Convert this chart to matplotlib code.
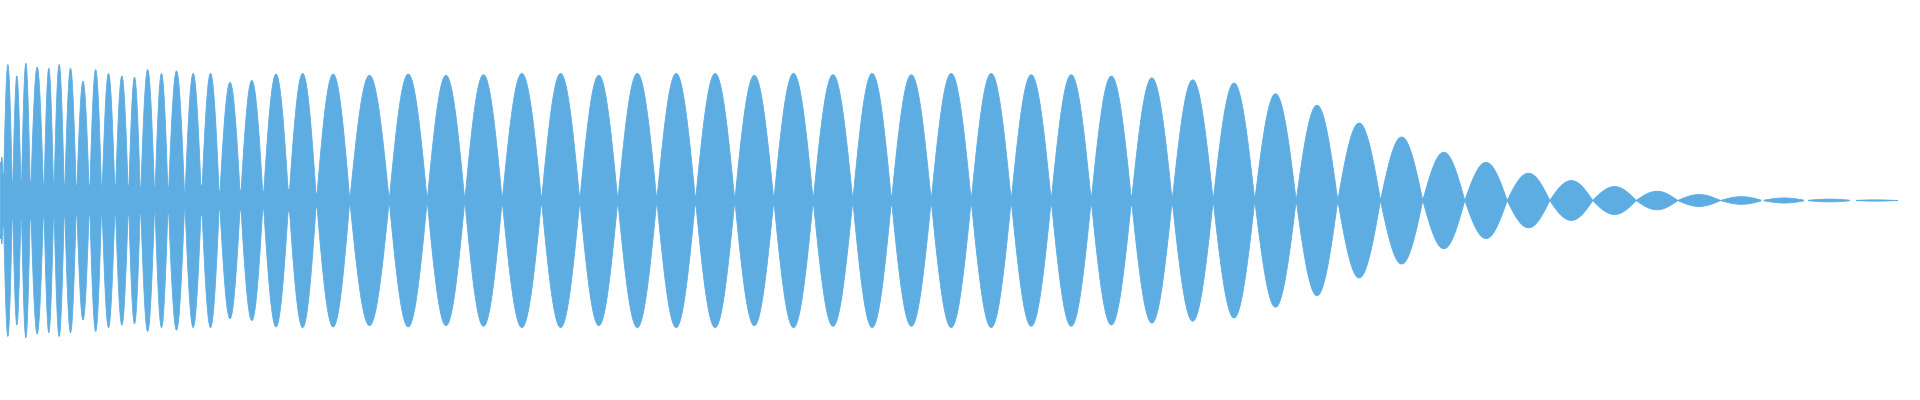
import matplotlib
matplotlib.use("Agg")
import matplotlib.pyplot as plt
import numpy as np

# positions where the envelope pinches in (pixel columns, 0..1920)
nodes = [0, 2.7, 12, 20.7, 30, 43.3, 53.3, 64, 76, 89, 101.3, 114.7, 128, 140, 154.3, 167.7,
         184.3, 201, 219, 240, 262.7, 288.3, 316, 349.3, 388.7, 426.7, 464.3,
         501.7, 541, 579.3, 617.3, 656.3, 695, 734.3, 773.3,
         812.7, 852.3, 891, 930.7, 970.7, 1010.7, 1050.7, 1090.7,
         1131, 1171.7, 1212.7, 1254.3, 1295.7, 1337.3, 1380, 1422.3,
         1464.3, 1506.7, 1549.3, 1592.3, 1635.7, 1677.3, 1720,
         1762, 1805.5, 1852.5, 1897]

# peak amplitude of each lobe between two nodes (1.0 = full scale)
peaks = [0.34, 1.07, 0.98, 1.08, 1.05, 1.04, 1.07, 1.04, 0.94, 1.03, 1.0, 0.98, 0.97, 1.03, 1.0,
         1.02, 1.0, 1.0, 0.93, 0.945, 0.995, 1.0, 0.995, 0.985, 0.995, 0.985,
         0.99, 1.0, 1.0, 0.985, 1.0, 1.0, 1.0, 0.985,
         1.0, 0.99, 1.0, 0.99, 1.0, 1.0, 0.99, 0.99,
         0.98, 0.965, 0.95, 0.925, 0.84, 0.75, 0.61, 0.50,
         0.38, 0.30, 0.215, 0.157, 0.11, 0.073, 0.047,
         0.03, 0.02, 0.011, 0.005]

# half height that is left at each node
necks = [0.3, 0.2, 0.15, 0.15, 0.15, 0.13, 0.13, 0.13, 0.12, 0.12, 0.12, 0.12, 0.12, 0.1, 0.1, 0.1,
         0.06, 0.12, 0.07, 0.08, 0.07, 0.085, 0.05, 0.035, 0.03, 0.035, 0.03,
         0.04, 0.04, 0.04, 0.04, 0.04, 0.04, 0.04, 0.04,
         0.04, 0.04, 0.04, 0.04, 0.04, 0.04, 0.04, 0.04,
         0.04, 0.04, 0.03, 0.03, 0.02, 0.01, 0.01, 0.01,
         0, 0, 0, 0, 0, 0, 0,
         0, 0, 0, 0]

# empty columns at the last nodes of the tail
tail_gaps = [3, 5, 7]

color = "#5dade2"

fig = plt.figure(figsize=(19.2, 4), dpi=100)
ax = fig.add_axes([0, 0, 1, 1])

gaps = np.zeros(len(nodes))
gaps[-1 - len(tail_gaps):-1] = tail_gaps

for i in range(len(peaks)):
    x0 = nodes[i] + gaps[i] / 2
    x1 = nodes[i + 1] - gaps[i + 1] / 2
    x = np.linspace(x0, x1, 80)
    t = (x - nodes[i]) / (nodes[i + 1] - nodes[i])
    env = np.maximum(peaks[i] * np.sin(np.pi * t), necks[i] * (1 - t) + necks[i + 1] * t)
    ax.fill_between(x, -env, env, facecolor=color, edgecolor=color, linewidth=0.6)

ax.set_xlim(0, 1920)
ax.set_ylim(-1.575, 1.575)
ax.axis("off")

fig.savefig("out.png", dpi=100)
